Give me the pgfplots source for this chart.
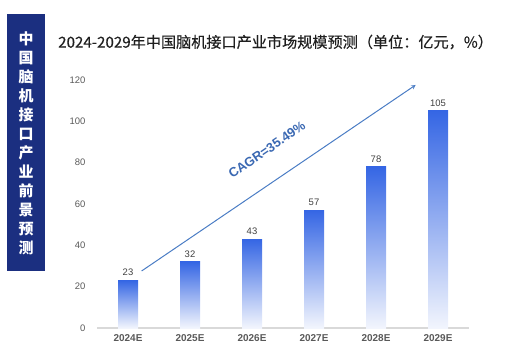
\documentclass[border=0pt]{standalone}
\usepackage{pgfplots}
\pgfplotsset{compat=1.18}
\usepackage{fontspec}
\setmainfont{Liberation Sans}
\newfontfamily\cjk{Noto Sans CJK SC}
\newfontfamily\cjkt{Noto Sans CJK SC}[FakeBold=0.4]
\definecolor{navy}{HTML}{1B2F80}
\definecolor{bartop}{HTML}{3566E4}
\definecolor{barbot}{HTML}{F2F5FD}
\definecolor{arrowc}{HTML}{4A7CC4}
\definecolor{cagrc}{HTML}{3A68B2}
\definecolor{tickc}{HTML}{595959}
\definecolor{valc}{HTML}{404040}
\begin{document}
\begin{tikzpicture}[x=1bp,y=1bp]
\path[use as bounding box] (0,0) rectangle (513,363);
\fill[navy] (7,92) rectangle (45,349);
\node[text=white, font=\cjk\bfseries\fontsize{15}{19.1}\selectfont, align=center, inner sep=0pt] at (26,220) {中\\国\\脑\\机\\接\\口\\产\\业\\前\\景\\预\\测};
\node[anchor=west, inner sep=0pt, font=\cjkt\fontsize{15.2}{17}\selectfont, text=black!88] at (58,321) {2024-2029年中国脑机接口产业市场规模预测（单位：亿元，\%）};
\begin{axis}[
  at={(97bp,35bp)}, anchor=south west,
  scale only axis, width=372bp, height=248bp,
  xmin=-0.5, xmax=5.5, ymin=0, ymax=120,
  xtick={0,1,2,3,4,5},
  xticklabels={2024E,2025E,2026E,2027E,2028E,2029E},
  ytick={0,20,40,60,80,100,120},
  axis x line=bottom, axis y line=left,
  x axis line style={draw=black!15, line width=1.2pt, -},
  y axis line style={draw=none},
  major tick length=0pt,
  tick style={draw=none},
  no markers,
  /pgf/number format/assume math mode=true,
  xticklabel style={font=\bfseries\fontsize{10}{11}\selectfont, text=tickc, yshift=-3bp},
  yticklabel style={font=\fontsize{9.5}{10}\selectfont, text=tickc, xshift=-8bp},
  clip=false,
  nodes near coords,
  nodes near coords style={font=\fontsize{9.5}{11}\selectfont, text=valc, yshift=1bp},
  every axis plot/.append style={ybar, bar width=20bp, bar shift=0pt, draw=none, top color=bartop, bottom color=barbot, mark=none},
]
\addplot coordinates {(0,23)};
\addplot coordinates {(1,32)};
\addplot coordinates {(2,43)};
\addplot coordinates {(3,57)};
\addplot coordinates {(4,78)};
\addplot coordinates {(5,105)};
\draw[arrowc, line width=1pt, -stealth] (axis cs:0.22,27.6) -- (axis cs:4.64,117.6);
\node[rotate=34.2, text=cagrc, font=\bfseries\fontsize{13}{15}\selectfont] at (axis cs:2.24,86.2) {CAGR=35.49\%};
\end{axis}
\end{tikzpicture}
\end{document}
